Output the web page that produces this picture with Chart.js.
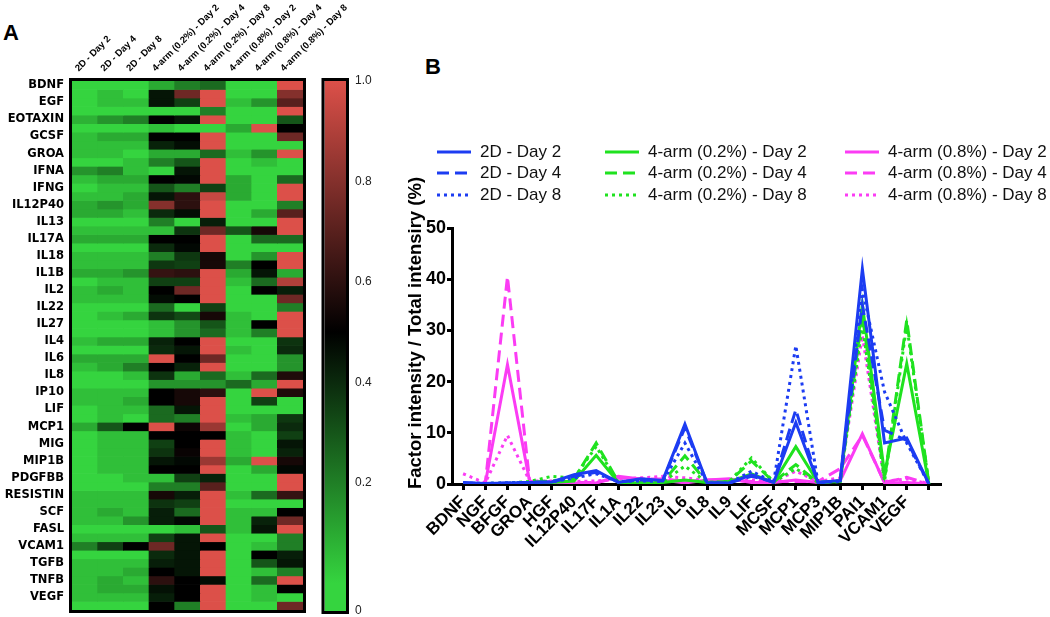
<!DOCTYPE html>
<html lang="en">
  <head>
    <meta charset="UTF-8" />
    <script src="https://cdn.jsdelivr.net/npm/chart.js"></script>
    <title>Cytokine profiles</title>
    <style>
      body { margin: 0; background: #fff; width: 1050px; height: 617px; overflow: hidden; position: relative; font-family: "Liberation Sans", Arial, sans-serif; }
      .box { position: absolute; }
      .panel { position: absolute; font-weight: bold; font-size: 22px; line-height: 1; color: #000; }
    </style>
  </head>
  <body>
    <div class="panel" style="left:3px; top:22px">A</div>
    <div class="panel" style="left:425px; top:56px">B</div>
    <div class="box" style="left:0; top:0; width:380px; height:617px"><canvas id="heat"></canvas></div>
    <div class="box" style="left:310px; top:0; width:80px; height:617px"><canvas id="bar"></canvas></div>
    <div class="box" style="left:400px; top:0; width:650px; height:617px"><canvas id="lines"></canvas></div>

    <script>
      // ---- panel A data ----
      const conditions = ['2D - Day 2', '2D - Day 4', '2D - Day 8',
        '4-arm (0.2%) - Day 2', '4-arm (0.2%) - Day 4', '4-arm (0.2%) - Day 8',
        '4-arm (0.8%) - Day 2', '4-arm (0.8%) - Day 4', '4-arm (0.8%) - Day 8']
      const cytokines = ['BDNF', 'EGF', 'EOTAXIN', 'GCSF', 'GROA', 'IFNA', 'IFNG', 'IL12P40', 'IL13', 'IL17A',
        'IL18', 'IL1B', 'IL2', 'IL22', 'IL27', 'IL4', 'IL6', 'IL8', 'IP10', 'LIF', 'MCP1', 'MIG', 'MIP1B',
        'PDGFBB', 'RESISTIN', 'SCF', 'FASL', 'VCAM1', 'TGFB', 'TNFB', 'VEGF']
      // two spots per cytokine, normalised 0..1
      const heatRows = [
        [0,0,0,0.1,0.2,0.25,0,0,1],
        [0,0.05,0,0.45,0.75,1,0,0,0.8],
        [0,0.05,0.05,0.45,0.35,1,0.05,0.15,0.7],
        [0,0,0,0,0,0.2,0,0,1],
        [0.08,0.15,0.2,0.5,0.45,1,0,0,0.3],
        [0,0,0,0.05,0,0,0.1,1,0.5],
        [0.05,0.1,0.1,0.5,0.5,1,0,0,0.75],
        [0.05,0.05,0.05,0.42,0.47,1,0,0,0],
        [0.05,0.05,0,0.1,0.1,0.25,0.05,0.15,1],
        [0,0,0.05,0.2,0.3,1,0,0.05,0],
        [0.15,0.2,0.05,0,0.45,1,0,0,0],
        [0.05,0.1,0.1,0.5,0.48,1,0.1,0,0.25],
        [0,0.05,0.05,0.3,0.2,0.35,0.1,0,1],
        [0.05,0.05,0.1,0.45,0.6,0.95,0.1,0,1],
        [0.1,0.15,0.1,0.8,0.6,1,0,0,0.2],
        [0.1,0.1,0.05,0.4,0.47,1,0,0.1,0.7],
        [0,0,0,0.2,0,0.43,0,0,1],
        [0.05,0.05,0.05,0.05,0.38,0.75,0.3,0.55,1],
        [0.1,0.1,0.1,0.5,0.5,1,0,0.25,0.25],
        [0,0,0,0.4,0.48,1,0,0,0],
        [0.05,0.05,0.05,0.2,0.37,0.55,0,0.15,1],
        [0.05,0.05,0.05,0.37,0.35,0.55,0.2,0.5,1],
        [0.1,0.1,0.15,0.62,0.6,1,0.1,0.45,0.1],
        [0,0.05,0.05,0.35,0.35,1,0.05,0.25,0.9],
        [0.05,0.1,0.05,0.5,0.75,1,0,0.5,0.43],
        [0.05,0.05,0.05,0.47,0.5,1,0,0,0.75],
        [0,0,0,0.25,0,0.35,0,0,0.2],
        [0,0.05,0.1,0.38,0.33,0.55,0.05,0,1],
        [0,0,0,0.05,0.15,0.3,0.05,0.5,1],
        [0,0,0,0.05,0.15,0.25,0.05,0.2,1],
        [0.05,0.1,0.1,0.42,0.5,1,0,0,0.38],
        [0,0,0,0.4,0.45,1,0.05,0,0.4],
        [0.1,0.1,0.1,1,0.5,0.75,0,0,0.15],
        [0.05,0.1,0.2,0.5,0.42,1,0,0,0.15],
        [0,0,0.05,0.38,0.1,0.25,0.05,0.25,0.57],
        [0,0,0,0.15,0.15,0.15,0.25,0.1,1],
        [0.05,0.05,0.05,0.5,0.55,0.6,0,1,0.57],
        [0.05,0.05,0.1,0.5,0.55,1,0,0.35,0],
        [0,0.05,0.05,0.25,0.45,1,0,0,0],
        [0,0.05,0,0.25,0.2,1,0.05,0.1,0.37],
        [0.1,0.3,0.5,1,0.53,0.85,0,0.1,0.4],
        [0,0.05,0.05,0.5,0.5,0.5,0.05,0,0.35],
        [0,0.05,0.05,0.35,0.5,1,0.05,0,0.45],
        [0,0.05,0.05,0.38,0.52,1,0.05,0,0.42],
        [0,0.05,0.05,0.45,0.48,0.85,0.1,1,0.55],
        [0,0.05,0.05,0.5,0.5,1,0,0.1,0.48],
        [0,0,0.05,0.05,0.35,0.42,0,0,1],
        [0,0,0,0.2,0.2,0.7,0,0,1],
        [0.05,0.05,0.05,0.55,0.43,1,0.05,0.25,0.62],
        [0.05,0.05,0.05,0.38,0.35,1,0,0,0],
        [0.05,0.1,0.05,0.43,0.25,1,0.05,0.05,0.5],
        [0.05,0.05,0.15,0.43,0.48,1,0.05,0.42,0.75],
        [0,0,0,0,0.05,0.3,0.05,0.45,1],
        [0.05,0.05,0.05,0.35,0.45,1,0,0,0.2],
        [0.2,0.35,0.5,0.75,0.45,0.5,0,0.05,0.2],
        [0,0,0,0.4,0.45,1,0,0.5,0.43],
        [0.05,0.05,0.05,0.43,0.45,1,0,0.3,0.45],
        [0.05,0.05,0.1,0.5,0.45,1,0,0.05,0.2],
        [0.05,0.1,0.05,0.6,0.5,0.47,0,0.25,1],
        [0.05,0.1,0.1,0.46,0.5,1,0,0.05,0.5],
        [0.05,0.05,0.05,0.43,0.5,1,0,0.05,0],
        [0,0,0,0.5,0.2,1,0,0,0.75]
      ]
      const colorbarTicks = [0.2, 0.4, 0.6, 0.8, 1.0]

      // ---- panel B data ----
      const factors = ['BDNF', 'NGF', 'BFGF', 'GROA', 'HGF', 'IL12P40', 'IL17F', 'IL1A', 'IL22', 'IL23', 'IL6',
        'IL8', 'IL9', 'LIF', 'MCSF', 'MCP1', 'MCP3', 'MIP1B', 'PAI1', 'VCAM1', 'VEGF', '']
      const d2D_day2 = [0.3,0.1,0.2,0.3,0.4,1.8,2.6,0.3,1.0,0.7,11.7,0.2,0.2,1.8,0.3,12,0.3,0.7,42,8,9,0]
      const d2D_day4 = [0.2,0.1,0.2,0.3,0.4,1.5,2.3,0.4,0.8,0.6,11,0.2,0.2,1.5,0.4,14.5,0.3,0.6,35,10.5,8.5,0]
      const d2D_day8 = [0.2,0.1,0.2,0.3,0.4,1.2,2.0,0.5,0.6,0.5,8,0.2,0.2,2.5,0.4,27,0.3,0.5,38,18,8,0]
      const arm02_day2 = [0.1,0.1,0.1,0.2,0.3,0.6,5.6,0.3,0.2,0.3,0.8,0.3,0.4,2.0,0.3,7.3,0.3,0.5,35,2,23.5,0]
      const arm02_day4 = [0.1,0.1,0.1,0.3,0.6,1.0,8.0,0.4,0.3,0.4,5.5,0.3,0.5,4.5,0.4,3.8,0.3,0.5,33,1,32,0]
      const arm02_day8 = [0.1,0.1,0.2,0.5,1.5,1.2,7.3,0.3,0.3,0.4,3.5,0.3,0.5,5.1,0.4,3.0,0.3,0.6,31,0.5,31,0]
      const arm08_day2 = [0.1,0.1,23.3,0.5,0.3,0.2,0.2,1.5,1.0,0.8,0.2,0.8,1.0,0.3,0.3,0.8,0.3,0.6,9.8,0.2,0.3,0]
      const arm08_day4 = [0.1,0.1,40.5,0.5,0.4,0.3,0.3,1.2,1.0,1.0,0.5,0.8,0.8,0.5,0.5,0.5,0.5,3.0,9.5,0.3,1.3,0]
      const arm08_day8 = [2.0,0.2,9.5,0.6,0.6,0.5,0.6,1.0,1.2,1.5,1.2,0.7,0.6,0.8,0.5,2.5,0.5,1.2,29,0.5,1.0,0]

      Chart.defaults.font.family = '"Liberation Sans", Arial, sans-serif'
      Chart.defaults.color = '#000'

      const GREEN = [53, 212, 63]
      const RED = [220, 80, 73]
      const heatColor = (v) => {
        const a = v <= 0.5 ? GREEN : RED
        const t = v <= 0.5 ? 1 - v / 0.5 : (v - 0.5) / 0.5
        return `rgb(${Math.round(a[0] * t)},${Math.round(a[1] * t)},${Math.round(a[2] * t)})`
      }

      const frame = {
        id: 'frame',
        afterDraw(chart) {
          const { ctx, chartArea: a } = chart
          ctx.save()
          ctx.lineWidth = 3
          ctx.strokeStyle = '#000'
          ctx.strokeRect(a.left - 1.5, a.top - 1.5, a.right - a.left + 3, a.bottom - a.top + 3)
          ctx.restore()
        },
      }
      const noPad = (s) => { s.paddingLeft = 0; s.paddingRight = 0; s.paddingTop = 0; s.paddingBottom = 0 }

      // heatmap: one floating-bar dataset per row
      new Chart(document.getElementById('heat'), {
        type: 'bar',
        data: {
          labels: conditions,
          datasets: heatRows.map((row, r) => ({
            data: row.map(() => [r, r + 1]),
            backgroundColor: row.map(heatColor),
            borderWidth: 0,
            barPercentage: 1,
            categoryPercentage: 1,
            grouped: false,
          })),
        },
        options: {
          responsive: true,
          maintainAspectRatio: false,
          animation: false,
          layout: { padding: { right: 77, bottom: 7 } },
          plugins: { legend: { display: false }, tooltip: { enabled: false } },
          scales: {
            x: {
              position: 'top',
              grid: { display: false, drawTicks: false },
              border: { display: false },
              ticks: { autoSkip: false, maxRotation: 45, minRotation: 45, padding: 7, font: { size: 9.5, weight: 'bold' } },
              afterFit: (s) => { s.height = 81; noPad(s) },
            },
            y: {
              reverse: true,
              min: 0,
              max: heatRows.length,
              grid: { display: false, drawTicks: false },
              border: { display: false },
              afterBuildTicks: (s) => { s.ticks = cytokines.map((_, i) => ({ value: 2 * i + 0.5 })) },
              ticks: {
                autoSkip: false,
                padding: 8,
                font: { size: 11.5, weight: 'bold', family: '"DejaVu Sans", sans-serif' },
                callback: (v, i) => cytokines[i],
              },
              afterFit: (s) => { s.width = 72; noPad(s) },
            },
          },
        },
        plugins: [frame],
      })

      // colour bar
      const cbMin = -0.055
      new Chart(document.getElementById('bar'), {
        type: 'bar',
        data: {
          labels: [''],
          datasets: [{
            data: [[cbMin, 1]],
            barPercentage: 1,
            categoryPercentage: 1,
            borderWidth: 0,
            backgroundColor: (c) => {
              const { chart } = c
              if (!chart.chartArea) return '#000'
              const y = chart.scales.y
              const g = chart.ctx.createLinearGradient(0, y.getPixelForValue(0), 0, y.getPixelForValue(1))
              for (let i = 0; i <= 10; i++) g.addColorStop(i / 10, heatColor(i / 10))
              return g
            },
          }],
        },
        options: {
          responsive: true,
          maintainAspectRatio: false,
          animation: false,
          layout: { padding: { left: 14.5, top: 81, bottom: 6 } },
          plugins: { legend: { display: false }, tooltip: { enabled: false } },
          scales: {
            x: { display: false },
            y: {
              position: 'right',
              min: cbMin,
              max: 1,
              grid: { display: false, drawTicks: false },
              border: { display: false },
              afterBuildTicks: (s) => { s.ticks = [{ value: cbMin }, ...colorbarTicks.map((v) => ({ value: v }))] },
              ticks: {
                padding: 9,
                color: '#222',
                font: { size: 12 },
                callback: (v) => (v < 0 ? '0' : v.toFixed(1)),
              },
              afterFit: (s) => { s.width = 44; noPad(s) },
            },
          },
        },
        plugins: [frame],
      })

      // 3 x 3 legend laid out column by column, plus the y title
      const gridLegend = {
        id: 'gridLegend',
        afterDraw(chart, args, opts) {
          const { ctx } = chart
          ctx.save()
          ctx.font = opts.font
          ctx.textBaseline = 'middle'
          ctx.fillStyle = '#111'
          chart.data.datasets.forEach((ds, i) => {
            const x = opts.cols[Math.floor(i / 3)]
            const y = opts.rows[i % 3]
            ctx.strokeStyle = ds.borderColor
            ctx.lineWidth = ds.borderWidth
            ctx.setLineDash(ds.borderDash || [])
            ctx.beginPath()
            ctx.moveTo(x, y)
            ctx.lineTo(x + opts.len, y)
            ctx.stroke()
            ctx.fillText(ds.label, x + opts.len + opts.gap, y)
          })
          // y axis title
          const t = opts.yTitle
          ctx.translate(t.x, t.y)
          ctx.rotate(-Math.PI / 2)
          ctx.font = t.font
          ctx.fillStyle = '#000'
          ctx.textAlign = 'center'
          ctx.textBaseline = 'middle'
          ctx.fillText(t.text, 0, 0)
          ctx.restore()
        },
      }

      const BLUE = '#1c3cf2'
      const LIME = '#1fe21f'
      const PINK = '#fb3cf4'
      const solid = []
      const dashed = [12, 6]
      const dotted = [3, 4]
      const series = [
        ['2D - Day 2', d2D_day2, BLUE, solid],
        ['2D - Day 4', d2D_day4, BLUE, dashed],
        ['2D - Day 8', d2D_day8, BLUE, dotted],
        ['4-arm (0.2%) - Day 2', arm02_day2, LIME, solid],
        ['4-arm (0.2%) - Day 4', arm02_day4, LIME, dashed],
        ['4-arm (0.2%) - Day 8', arm02_day8, LIME, dotted],
        ['4-arm (0.8%) - Day 2', arm08_day2, PINK, solid],
        ['4-arm (0.8%) - Day 4', arm08_day4, PINK, dashed],
        ['4-arm (0.8%) - Day 8', arm08_day8, PINK, dotted],
      ]

      new Chart(document.getElementById('lines'), {
        type: 'line',
        data: {
          labels: factors,
          datasets: series.map(([label, data, color, dash]) => ({
            label,
            data,
            borderColor: color,
            borderWidth: 3,
            borderDash: dash,
            pointRadius: 0,
            tension: 0,
            fill: false,
          })),
        },
        options: {
          responsive: true,
          maintainAspectRatio: false,
          animation: false,
          layout: { padding: { top: 228, right: 110 } },
          plugins: {
            legend: { display: false },
            tooltip: { enabled: false },
            gridLegend: {
              cols: [37, 205, 445],
              rows: [152, 173, 195],
              len: 34,
              gap: 9,
              font: '17px "Liberation Sans", Arial, sans-serif',
              yTitle: { text: 'Factor intensity / Total intensiry (%)', x: 16, y: 333, font: 'bold 18.5px "Liberation Sans", Arial, sans-serif' },
            },
          },
          scales: {
            x: {
              offset: true,
              grid: { display: true, drawOnChartArea: false, offset: false, tickLength: 6, lineWidth: 3, color: '#000' },
              border: { color: '#000', width: 3 },
              ticks: { autoSkip: false, maxRotation: 45, minRotation: 45, padding: 2, font: { size: 17, weight: 'bold' } },
              afterFit: (s) => { s.height = 133 },
            },
            y: {
              min: 0,
              max: 50,
              ticks: { stepSize: 10, padding: 1, font: { size: 18, weight: 'bold' } },
              grid: { drawOnChartArea: false, tickLength: 5, lineWidth: 3, color: '#000' },
              border: { color: '#000', width: 3 },
              afterFit: (s) => { s.width = 52 },
            },
          },
        },
        plugins: [gridLegend],
      })
    </script>
  </body>
</html>
